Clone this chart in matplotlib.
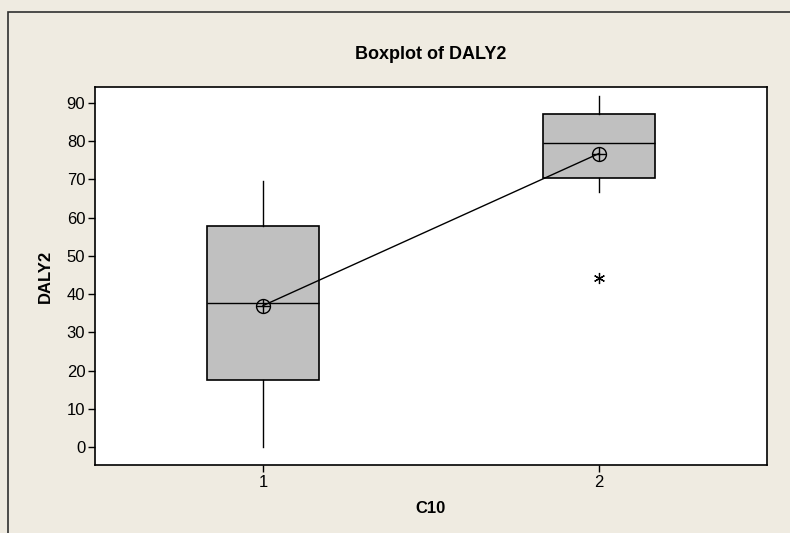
import matplotlib
matplotlib.use('Agg')
import matplotlib.pyplot as plt
import matplotlib.patches as patches

# data
groups = [1, 2]
q1 = [17.6, 70.5]
medians = [37.6, 79.5]
q3 = [57.8, 87.2]
whisker_low = [0.0, 66.8]
whisker_high = [69.6, 91.8]
means = [37.0, 76.8]
outliers = [[], [44.3]]
y_ticks = [0, 10, 20, 30, 40, 50, 60, 70, 80, 90]

BG = '#efebe1'
BOX = '#c0c0c0'
FONT = ['Liberation Sans Narrow', 'Liberation Sans', 'DejaVu Sans']
plt.rcParams['font.family'] = FONT

fig = plt.figure(figsize=(7.9, 5.33), dpi=100, facecolor=BG)
# outer frame (cropped on right and bottom in the reference)
fig.patches.append(patches.Rectangle((8 / 790, -0.05), 1.1, 1 - 12 / 533 + 0.05,
                                     transform=fig.transFigure, fill=False,
                                     edgecolor='#303030', linewidth=1.2))

ax = fig.add_axes([95 / 790, 1 - 465 / 533, (767 - 95) / 790, (465 - 87) / 533])
ax.set_facecolor('white')

stats = []
for i in range(len(groups)):
    stats.append(dict(med=medians[i], q1=q1[i], q3=q3[i],
                      whislo=whisker_low[i], whishi=whisker_high[i],
                      fliers=outliers[i], label=str(groups[i])))

ax.bxp(stats, positions=groups, widths=0.333, patch_artist=True, showcaps=False,
       boxprops=dict(facecolor=BOX, edgecolor='black', linewidth=1.2),
       medianprops=dict(color='black', linewidth=1.0),
       whiskerprops=dict(color='black', linewidth=1.0),
       flierprops=dict(marker=(6, 2, 0), markersize=8, markeredgecolor='black',
                       markeredgewidth=0.9, linestyle='none'))

# mean connect line and mean symbols
ax.plot(groups, means, color='black', linewidth=1.0, zorder=4)
ax.plot(groups, means, linestyle='none', marker='o', markersize=10,
        markerfacecolor='none', markeredgecolor='black', markeredgewidth=1.0, zorder=5)
ax.plot(groups, means, linestyle='none', marker='+', markersize=10,
        markeredgecolor='black', markeredgewidth=1.0, zorder=5)

ax.set_xlim(0.5, 2.5)
ax.set_ylim(-4.7, 94.2)
ax.set_yticks(y_ticks)
ax.set_xticks(groups)
ax.set_xticklabels([str(g) for g in groups])
ax.tick_params(direction='out', length=5, width=1, labelsize=12, colors='black', pad=2)
for s in ax.spines.values():
    s.set_linewidth(1.2)
    s.set_color('black')

ax.set_title('Boxplot of DALY2', fontsize=13, fontweight='bold', pad=20)
ax.set_xlabel('C10', fontsize=12, fontweight='bold', labelpad=8)
ax.set_ylabel('DALY2', fontsize=12, fontweight='bold', labelpad=10)

fig.savefig('out.png', dpi=100, facecolor=BG)
